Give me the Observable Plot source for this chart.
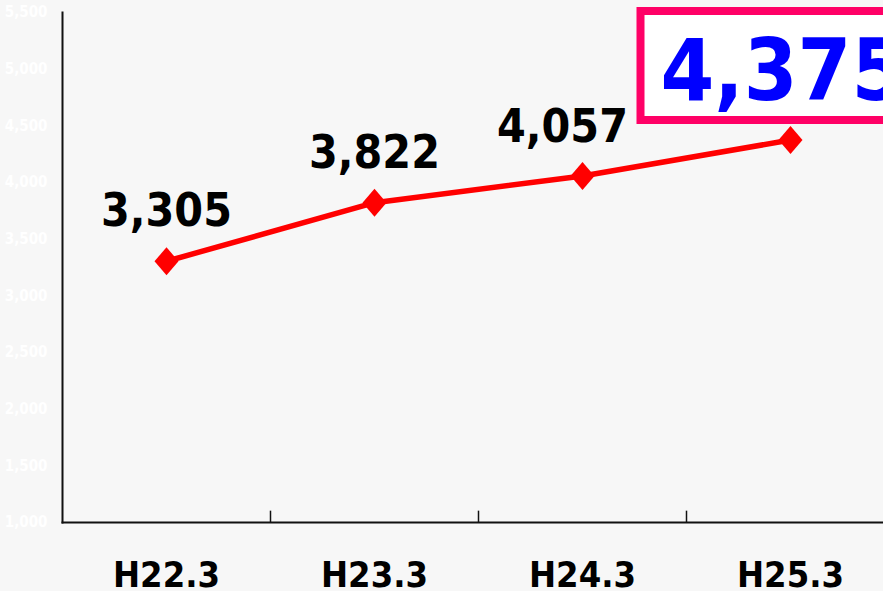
<!DOCTYPE html>
<html><head><meta charset="utf-8">
<script src="https://cdn.jsdelivr.net/npm/d3@7"></script>
<script src="https://cdn.jsdelivr.net/npm/@observablehq/plot@0.6"></script>
<style>
html,body{margin:0;padding:0;background:#f7f7f7;overflow:hidden}
#chart svg text{font-family:"DejaVu Sans Condensed","DejaVu Sans",sans-serif;font-stretch:condensed;font-weight:bold}
#chart g[aria-label="x-axis tick label"]{font-size:36px}
#chart g[aria-label="y-axis tick label"]{font-size:15px}
</style></head><body><div id="chart"></div>
<script>
const categories = ["H22.3", "H23.3", "H24.3", "H25.3"];
const values = [3305, 3822, 4057, 4375];
const yTicks = [1000, 1500, 2000, 2500, 3000, 3500, 4000, 4500, 5000, 5500];
const yDomain = [1000, 5500];
const highlight = "H25.3";

const data = categories.map((c, i) => ({cat: c, value: values[i]}));
const fmt = d3.format(",");

const rhombus = {
  draw(ctx, size) {
    const k = 28 / 24;
    const w = Math.sqrt(2 * size / k), h = w * k;
    ctx.moveTo(0, -h / 2); ctx.lineTo(w / 2, 0); ctx.lineTo(0, h / 2); ctx.lineTo(-w / 2, 0); ctx.closePath();
  }
};

const plain = data.filter(d => d.cat !== highlight);
const hi = data.filter(d => d.cat === highlight);

const plot = Plot.plot({
  width: 883, height: 591,
  marginTop: 12, marginBottom: 69, marginLeft: 62, marginRight: 0,
  style: {background: "transparent"},
  x: {type: "band", domain: categories, range: [62, 894], padding: 0, axis: null},
  y: {domain: yDomain, axis: null},
  marks: [
    Plot.axisY(yTicks, {tickSize: 0, tickPadding: 15, tickFormat: fmt, color: "#ffffff", label: null}),
    Plot.axisX({tickSize: 0, tickPadding: 39, color: "#000", label: null}),
    Plot.frame({anchor: "left", stroke: "#111", strokeWidth: 2}),
    Plot.frame({anchor: "bottom", stroke: "#111", strokeWidth: 2}),
    Plot.ruleX(categories.slice(1), {y1: yDomain[0], y2: yDomain[0] + 100, dx: -104, stroke: "#111", strokeWidth: 1.5}),
    Plot.line(data, {x: "cat", y: "value", stroke: "#ff0000", strokeWidth: 5.5}),
    Plot.dot(data, {x: "cat", y: "value", symbol: rhombus, r: 10.34, fill: "#ff0000", stroke: "none"}),
    Plot.text(plain.slice(0, 2), {x: "cat", y: "value", text: d => fmt(d.value), dy: -35, lineAnchor: "bottom", fontSize: 46, fill: "#000"}),
    Plot.text(plain.slice(2), {x: "cat", y: "value", text: d => fmt(d.value), dx: -20, dy: -34, lineAnchor: "bottom", fontSize: 46, fill: "#000"}),
    Plot.text(hi, {x: "cat", y: "value", text: d => fmt(d.value), dx: -130, dy: -40, textAnchor: "start", lineAnchor: "bottom", fontSize: 86, fill: "#0000ff"})
  ]
});

document.getElementById("chart").append(plot);

const big = [...plot.querySelectorAll('g[aria-label="text"] text')].find(t => t.textContent === fmt(hi[0].value));
if (big) {
  const bb = big.getBBox();
  const rect = document.createElementNS("http://www.w3.org/2000/svg", "rect");
  rect.setAttribute("x", bb.x - 20);
  rect.setAttribute("y", bb.y - 9);
  rect.setAttribute("width", bb.width + 60);
  rect.setAttribute("height", bb.height + 9);
  rect.setAttribute("fill", "#ffffff");
  rect.setAttribute("stroke", "#ff0066");
  rect.setAttribute("stroke-width", 8);
  const tr = big.getAttribute("transform");
  if (tr) rect.setAttribute("transform", tr);
  big.parentNode.insertBefore(rect, big);
}
</script></body></html>
